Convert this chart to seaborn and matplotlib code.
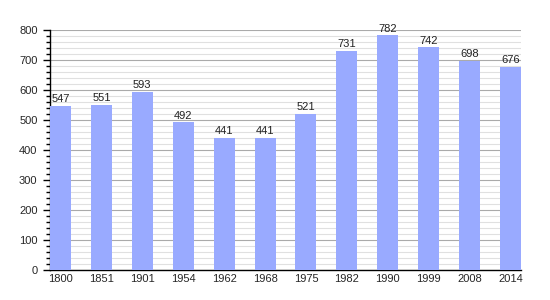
import matplotlib
matplotlib.use("Agg")
import matplotlib.pyplot as plt
import seaborn as sns
import numpy as np
import pandas as pd
from matplotlib.ticker import MultipleLocator

years = ["1800", "1851", "1901", "1954", "1962", "1968", "1975", "1982", "1990", "1999", "2008", "2014"]
population = [547, 551, 593, 492, 441, 441, 521, 731, 782, 742, 698, 676]

sns.set_theme(style="white")
plt.rcParams['font.family'] = ['Liberation Sans', 'DejaVu Sans']

fig = plt.figure(figsize=(5.5, 3.0), dpi=100)
ax = fig.add_axes([50/550, 30/300, 471/550, 240/300])

df = pd.DataFrame({"year": years, "pop": population})
sns.barplot(data=df, x="year", y="pop", color="#99aaff", saturation=1, width=0.5, ax=ax, zorder=3)

bw = 0.515
for p in ax.patches:
    p.set_width(bw)
    p.set_edgecolor("none")

n = len(years)
ax.set_xticks(np.arange(n) - 0.25 + bw/2)
ax.set_xticklabels(years, fontsize=8)
ax.set_xlim(-0.25, n - 1 - 0.25 + bw)
ax.set_ylim(0, 800)
ax.yaxis.set_major_locator(MultipleLocator(100))
ax.yaxis.set_minor_locator(MultipleLocator(20))
ax.tick_params(axis='y', which='major', length=5, width=1, color='black', labelsize=8, direction='out', left=True, pad=4)
ax.tick_params(axis='y', which='minor', length=3, width=1, color='black', direction='out', left=True)
ax.tick_params(axis='x', length=0, pad=3)
ax.grid(which='major', axis='y', color='#aaaaaa', linewidth=0.8, zorder=0)
ax.grid(which='minor', axis='y', color='#e0e0e0', linewidth=0.8, zorder=0)
ax.set_axisbelow(True)
ax.set_xlabel("")
ax.set_ylabel("")
for s in ["top", "right"]:
    ax.spines[s].set_visible(False)
for s in ["left", "bottom"]:
    ax.spines[s].set_color("black")
    ax.spines[s].set_linewidth(1)

for p, v in zip(ax.patches, population):
    ax.text(p.get_x() + p.get_width()/2, v + 6, str(v), ha='center', va='bottom', fontsize=8, color='#222222')

fig.savefig("out.png", dpi=100)
